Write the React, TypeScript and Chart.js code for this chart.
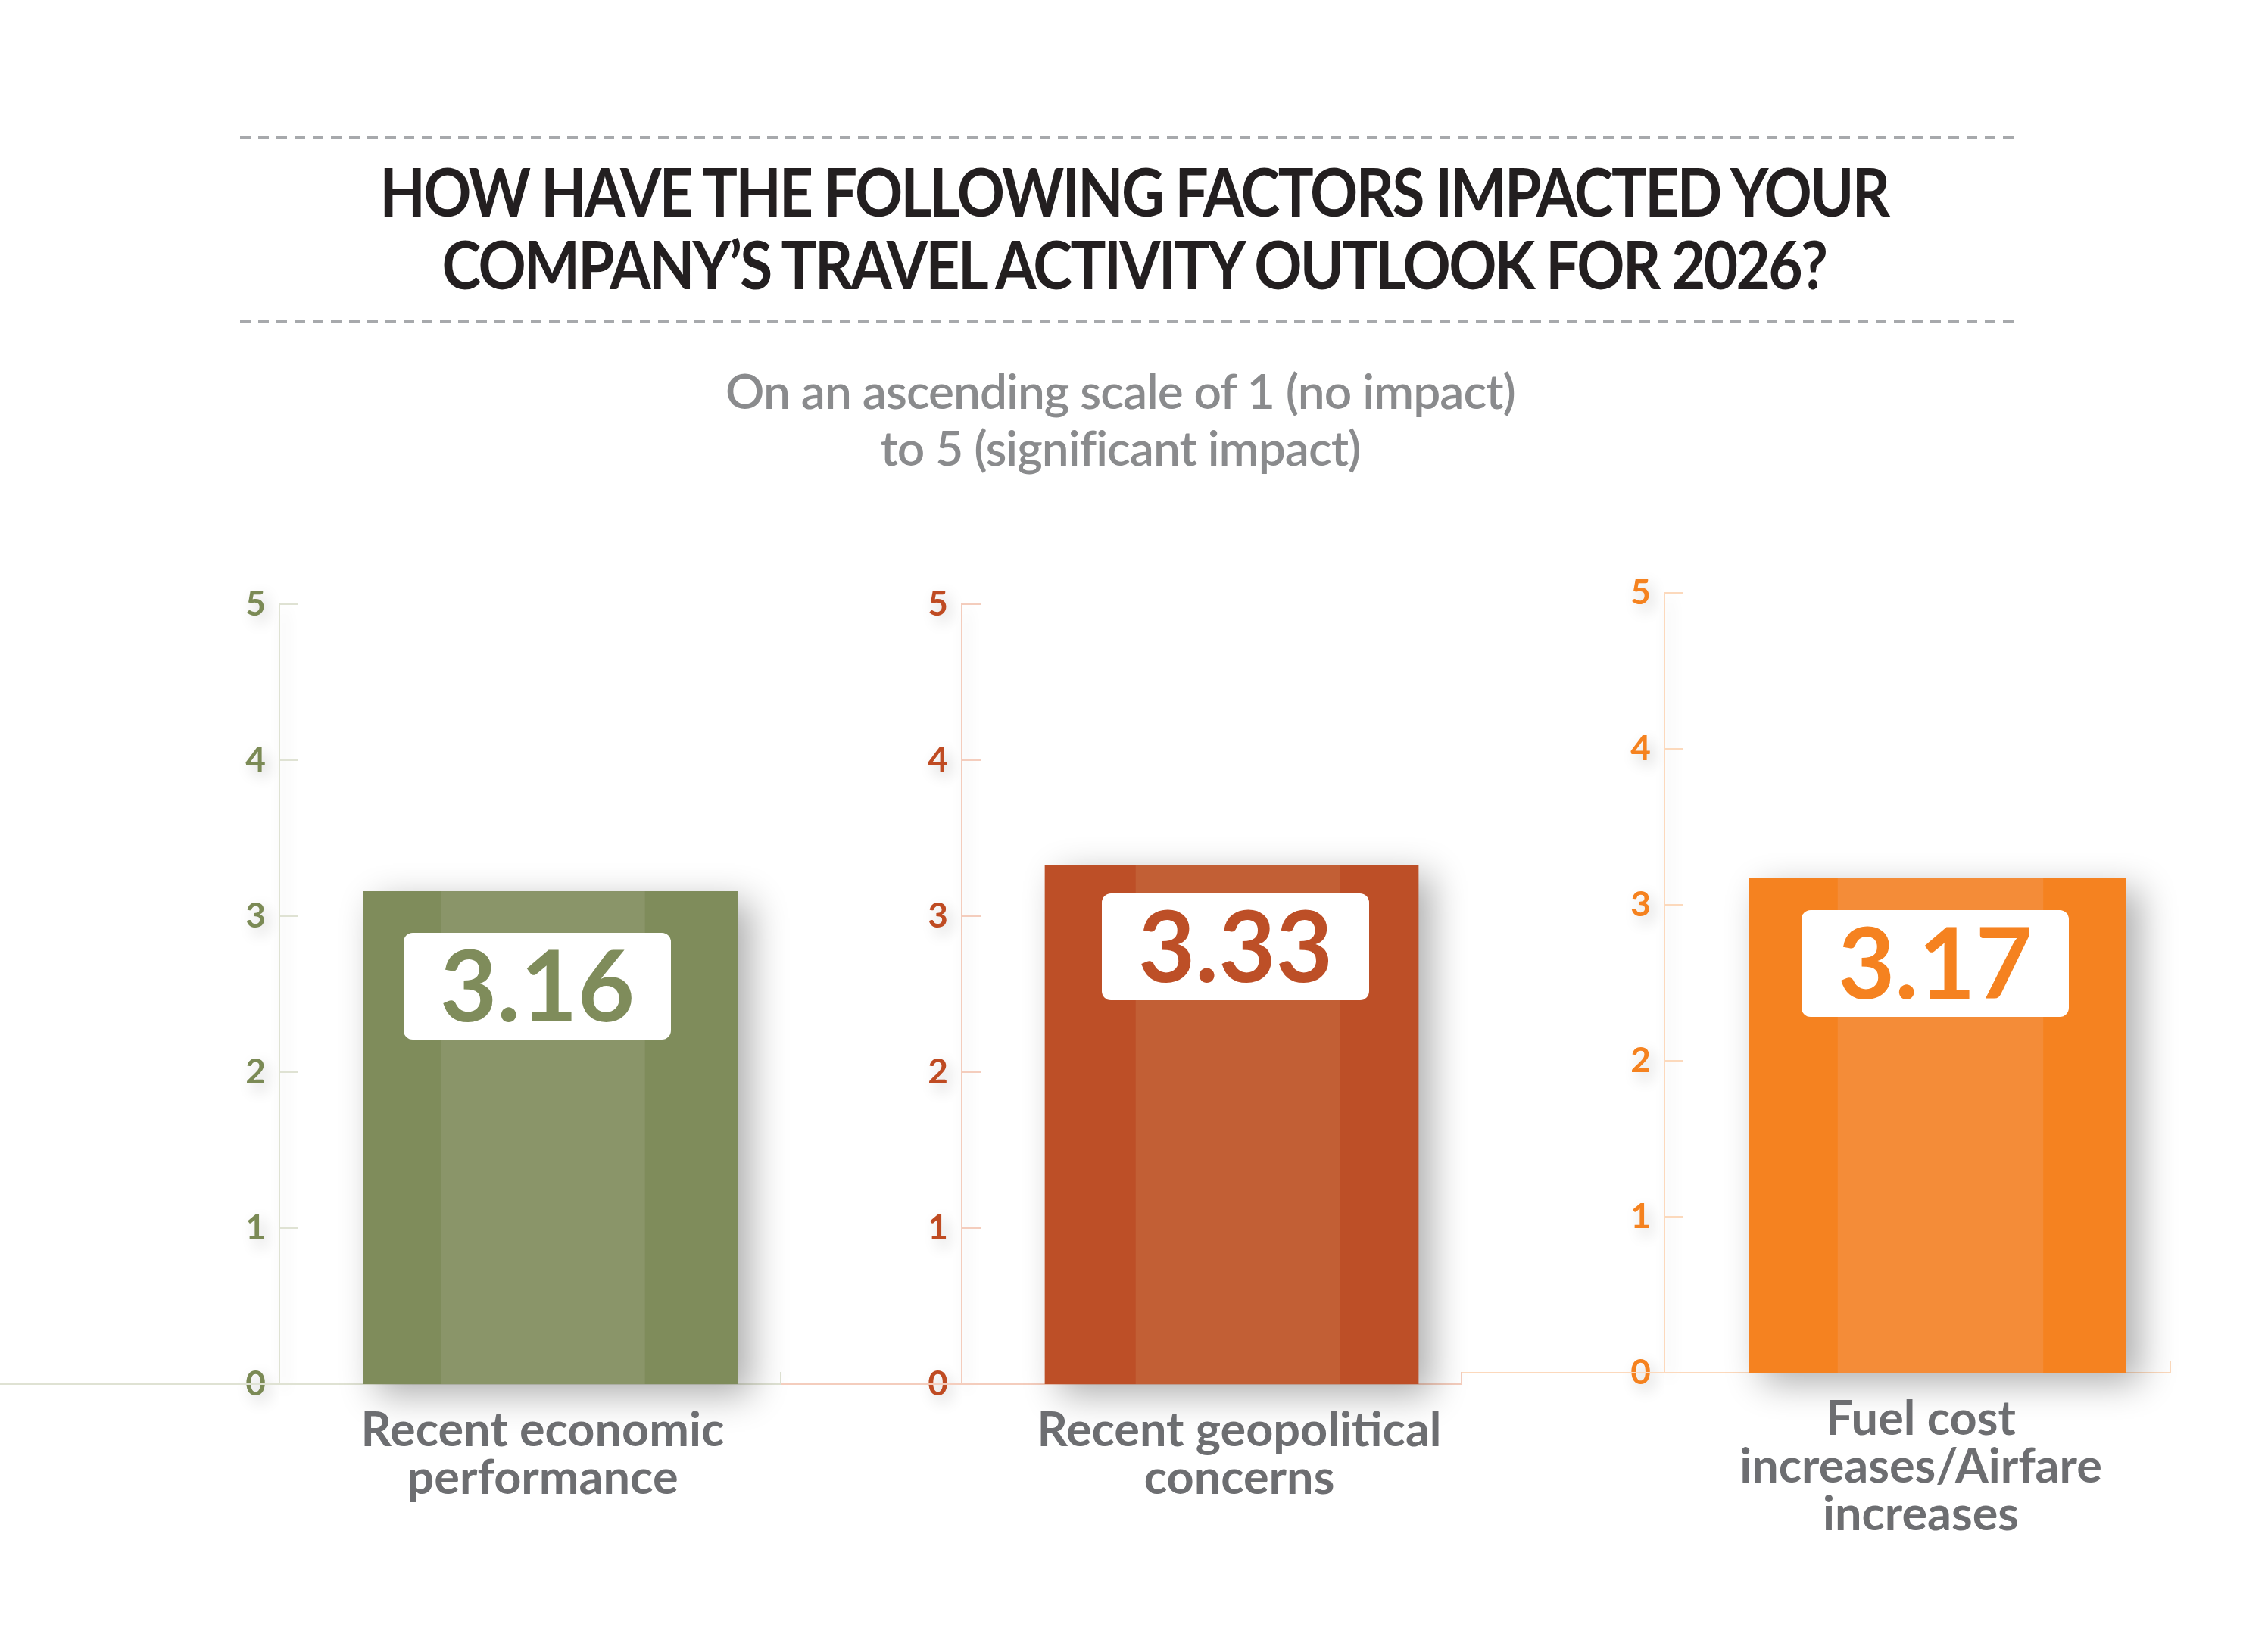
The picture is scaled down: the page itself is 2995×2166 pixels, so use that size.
import React, { useEffect, useRef } from 'react';
import { Chart, registerables } from 'chart.js';

Chart.register(...registerables);

// ---------- data ----------
const titleLines = ['HOW HAVE THE FOLLOWING FACTORS IMPACTED YOUR', 'COMPANY\u2019S TRAVEL ACTIVITY OUTLOOK FOR 2026?'];
const subtitleLines = ['On an ascending scale of 1 (no impact)', 'to 5 (significant impact)'];
const categories = [
  ['Recent economic', 'performance'],
  ['Recent geopolitical', 'concerns'],
  ['Fuel cost', 'increases/Airfare', 'increases'],
];
const values = [3.16, 3.33, 3.17];
const yTickValues = [0, 1, 2, 3, 4, 5];

// ---------- styles ----------
const darkColors = ['#7f8c5b', '#bd4f27', '#f58220'];
const lightColors = ['#8a9569', '#c25f35', '#f48c38'];
const tickColors = ['#7b8a55', '#bf4b22', '#f5821f'];
const axisColors = ['#dfe2d3', '#f4cdbd', '#fcd9bc'];
const stripeStarts = [0.208, 0.243, 0.236];
const stripeEnds = [0.753, 0.79, 0.78];
const boxOffsetsX = [-17, 5, -3];
const boxOffsetsY = [55, 38, 42];
const labelOffsets = [-10, 10, -22];

const panelLayouts = [
  { left: 0, top: 700, width: 1100, height: 1466, axisX: 369, areaTop: 798, areaBottom: 1828, areaRight: 1084 },
  { left: 1031, top: 700, width: 1000, height: 1466, axisX: 1270, areaTop: 798, areaBottom: 1828, areaRight: 1983 },
  { left: 1930, top: 700, width: 1065, height: 1466, axisX: 2198, areaTop: 783, areaBottom: 1813, areaRight: 2919 },
];

function makePlugin(i: number) {
  return {
    id: 'deco' + i,
    beforeDraw(chart: any) {
      const ctx = chart.ctx;
      ctx.save();
      ctx.shadowColor = 'rgba(0,0,0,0.20)';
      ctx.shadowBlur = 20;
      ctx.shadowOffsetX = 6;
      ctx.shadowOffsetY = 8;
    },
    beforeDatasetsDraw(chart: any) {
      const ctx = chart.ctx;
      ctx.restore();
      const area = chart.chartArea;
      const yScale = chart.scales.y;
      ctx.save();
      ctx.strokeStyle = axisColors[i];
      ctx.lineWidth = 2;
      ctx.beginPath();
      ctx.moveTo(0, area.bottom);
      ctx.lineTo(area.right - 53, area.bottom);
      ctx.lineTo(area.right - 53, area.bottom - 16);
      ctx.stroke();
      yScale.ticks.forEach((t: any) => {
        const py = yScale.getPixelForValue(t.value);
        ctx.beginPath();
        ctx.moveTo(area.left, py);
        ctx.lineTo(area.left + 25, py);
        ctx.stroke();
      });
      ctx.restore();
      const meta = chart.getDatasetMeta(0);
      meta.data.forEach((bar: any) => {
        const { x, y, base, width } = bar.getProps(['x', 'y', 'base', 'width'], true);
        ctx.save();
        ctx.shadowColor = 'rgba(0,0,0,0.32)';
        ctx.shadowBlur = 45;
        ctx.shadowOffsetX = 18;
        ctx.shadowOffsetY = 14;
        ctx.fillStyle = darkColors[i];
        ctx.fillRect(x - width / 2, y, width, base - y);
        ctx.restore();
      });
    },
    afterDatasetsDraw(chart: any) {
      const ctx = chart.ctx;
      const meta = chart.getDatasetMeta(0);
      meta.data.forEach((bar: any, k: number) => {
        const { x, y, base, width } = bar.getProps(['x', 'y', 'base', 'width'], true);
        const left = x - width / 2;
        ctx.save();
        ctx.fillStyle = lightColors[i];
        ctx.fillRect(left + width * stripeStarts[i], y, width * (stripeEnds[i] - stripeStarts[i]), base - y);
        // value box
        const bw = 353, bh = 141;
        const bx = x - bw / 2 + boxOffsetsX[i];
        const by = y + boxOffsetsY[i];
        ctx.fillStyle = '#ffffff';
        ctx.beginPath();
        ctx.roundRect(bx, by, bw, bh, 12);
        ctx.fill();
        ctx.fillStyle = darkColors[i];
        ctx.font = 'bold 130px Lato';
        ctx.textAlign = 'center';
        ctx.textBaseline = 'alphabetic';
        const v = chart.data.datasets[0].data[k] as number;
        ctx.fillText(v.toFixed(2), bx + bw / 2, by + bh / 2 + 0.717 * 130 / 2);
        ctx.restore();
      });
    },
  };
}

function Panel({ index }: { index: number }) {
  const ref = useRef<HTMLCanvasElement | null>(null);
  const L = panelLayouts[index];
  useEffect(() => {
    const yWidth = L.axisX - L.left;
    const xHeight = L.top + L.height - L.areaBottom;
    const chart = new Chart(ref.current as HTMLCanvasElement, {
      type: 'bar',
      data: {
        labels: [categories[index]],
        datasets: [
          {
            data: [values[index]],
            backgroundColor: darkColors[index],
            borderWidth: 0,
            barPercentage: 0.692,
            categoryPercentage: 1,
            clip: false as any,
          },
        ],
      },
      options: {
        responsive: false,
        animation: false,
        devicePixelRatio: 1,
        layout: {
          padding: { top: L.areaTop - L.top, right: L.left + L.width - L.areaRight, left: 0, bottom: 0 },
        },
        plugins: { legend: { display: false }, tooltip: { enabled: false }, title: { display: false } },
        scales: {
          x: {
            type: 'category',
            offset: true,
            grid: { display: false, drawTicks: false },
            border: { display: false },
            ticks: {
              z: 1,
              color: '#6d6e71',
              font: { family: 'Lato', size: 63, weight: 'bold', lineHeight: 1.0 },
              padding: 30,
              labelOffset: labelOffsets[index],
              maxRotation: 0,
              autoSkip: false,
            },
            afterFit: (s: any) => {
              s.height = xHeight;
            },
          } as any,
          y: {
            min: 0,
            max: 5,
            grid: { display: false, drawTicks: false },
            border: { display: true, color: axisColors[index], width: 2 },
            ticks: {
              color: tickColors[index],
              font: { family: 'Lato', size: 46, weight: 'bold' },
              padding: 18,
            },
            afterBuildTicks: (s: any) => {
              s.ticks = yTickValues.map((v) => ({ value: v }));
            },
            afterFit: (s: any) => {
              s.width = yWidth;
            },
          } as any,
        },
      },
      plugins: [makePlugin(index)],
    });
    return () => chart.destroy();
  }, [index]);
  return (
    <canvas
      ref={ref}
      width={L.width}
      height={L.height}
      style={{ position: 'absolute', left: L.left, top: L.top, width: L.width, height: L.height }}
    />
  );
}

const dashBg = 'repeating-linear-gradient(to right, #a7a9ac 0px, #a7a9ac 14px, transparent 14px, transparent 24px)';

export default function App() {
  return (
    <div
      style={{
        position: 'absolute',
        left: 0,
        top: 0,
        width: 2995,
        height: 2166,
        background: '#ffffff',
        overflow: 'hidden',
        fontFamily: 'Lato, sans-serif',
      }}
    >
      <div style={{ position: 'absolute', left: 317, top: 180, width: 2342, height: 3, background: dashBg }} />
      <div style={{ position: 'absolute', left: 317, top: 423, width: 2342, height: 3, background: dashBg }} />
      {titleLines.map((t, k) => (
        <div
          key={'t' + k}
          style={{
            position: 'absolute',
            left: 0,
            width: 2995,
            top: 204 + k * 96,
            height: 96,
            lineHeight: '96px',
            fontSize: 88,
            fontWeight: 700,
            color: '#231f20',
            textAlign: 'center',
            letterSpacing: -3,
            whiteSpace: 'nowrap',
            transform: 'scaleX(0.89)',
            transformOrigin: '1497px 50%',
          }}
        >
          {t}
        </div>
      ))}
      {subtitleLines.map((t, k) => (
        <div
          key={'s' + k}
          style={{
            position: 'absolute',
            left: -18,
            width: 2995,
            top: 478 + k * 75,
            height: 75,
            lineHeight: '75px',
            fontSize: 64,
            fontWeight: 600,
            color: '#8a8b8d',
            textAlign: 'center',
            letterSpacing: -1,
            whiteSpace: 'nowrap',
          }}
        >
          {t}
        </div>
      ))}
      {panelLayouts.map((_, i) => (
        <Panel key={i} index={i} />
      ))}
    </div>
  );
}
